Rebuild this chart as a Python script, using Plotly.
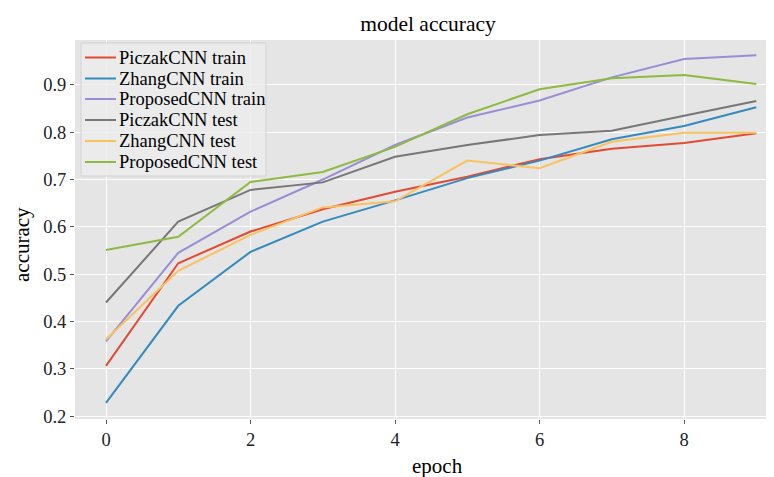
import plotly.graph_objects as go

epochs = list(range(10))
piczak_train = [0.306, 0.523, 0.590, 0.637, 0.674, 0.706, 0.743, 0.765, 0.777, 0.798]
zhang_train = [0.228, 0.433, 0.547, 0.611, 0.656, 0.703, 0.740, 0.785, 0.813, 0.853]
proposed_train = [0.358, 0.545, 0.632, 0.700, 0.773, 0.831, 0.867, 0.916, 0.955, 0.963]
piczak_test = [0.440, 0.611, 0.678, 0.694, 0.748, 0.773, 0.794, 0.803, 0.835, 0.866]
zhang_test = [0.362, 0.507, 0.583, 0.641, 0.654, 0.740, 0.724, 0.780, 0.799, 0.799]
proposed_test = [0.551, 0.579, 0.695, 0.716, 0.769, 0.838, 0.891, 0.914, 0.921, 0.902]

names = ["PiczakCNN train", "ZhangCNN train", "ProposedCNN train",
         "PiczakCNN test", "ZhangCNN test", "ProposedCNN test"]
values = [piczak_train, zhang_train, proposed_train, piczak_test, zhang_test, proposed_test]
colors = ["#E24A33", "#348ABD", "#988ED5", "#777777", "#FBC15E", "#8EBA42"]

FONT = "Liberation Serif, Times New Roman, serif"
OFF = 8  # default page body margin
W, H = 774 - OFF, 477 - OFF
# plot area in window pixels: left 75, right 774, top 40, bottom 419
ML, MR, MT, MB = 75 - OFF, 0, 40 - OFF, 477 - 419
PW, PH = W - ML - MR, H - MT - MB


def px(xw):
    return (xw - OFF - ML) / PW


def py(yw):
    return 1 - (yw - OFF - MT) / PH


fig = go.Figure()
for name, vals, color in zip(names, values, colors):
    fig.add_trace(go.Scatter(x=epochs, y=vals, mode="lines", name=name,
                             line=dict(color=color, width=2), showlegend=False))

shapes = []
annotations = []
shapes.append(dict(type="rect", xref="paper", yref="paper",
                   x0=px(81), x1=px(266), y0=py(43), y1=py(176),
                   fillcolor="rgba(236,236,236,0.85)", line=dict(color="#D2D2D2", width=1),
                   layer="above"))
row_y = [57.5, 78.5, 99, 120, 141, 162]
for name, color, ry in zip(names, colors, row_y):
    shapes.append(dict(type="line", xref="paper", yref="paper",
                       x0=px(85), x1=px(116), y0=py(ry), y1=py(ry),
                       line=dict(color=color, width=2), layer="above"))
    annotations.append(dict(text=name, xref="paper", yref="paper",
                            x=px(116.5), y=py(ry), xanchor="left", yanchor="middle",
                            showarrow=False,
                            font=dict(family=FONT, size=18.5, color="black")))

annotations.append(dict(text="epoch", xref="paper", yref="paper",
                        x=px(437), y=py(466), xanchor="center", yanchor="middle",
                        showarrow=False, font=dict(family=FONT, size=21, color="black")))
annotations.append(dict(text="accuracy", xref="paper", yref="paper",
                        x=px(22), y=py(245), xanchor="center", yanchor="middle",
                        textangle=-90, showarrow=False,
                        font=dict(family=FONT, size=21, color="black")))

fig.update_layout(
    width=W, height=H,
    margin=dict(l=ML, r=MR, t=MT, b=MB),
    paper_bgcolor="white",
    plot_bgcolor="#E5E5E5",
    font=dict(family=FONT, size=18.5, color="black"),
    title=dict(text="model accuracy", x=px(428), xref="paper", xanchor="center",
               y=1 - (23 - OFF) / H, yanchor="middle", yref="container",
               font=dict(family=FONT, size=21.5, color="black")),
    showlegend=False,
    shapes=shapes,
    annotations=annotations,
    xaxis=dict(range=[-0.429, 9.245], tickvals=[0, 2, 4, 6, 8],
               showgrid=True, gridcolor="white", gridwidth=1.2, zeroline=False,
               ticks="outside", ticklen=4, tickcolor="#555555",
               tickfont=dict(family=FONT, size=18.5, color="#222222"),
               automargin=False, showline=False),
    yaxis=dict(range=[0.1937, 0.995], tickvals=[0.2, 0.3, 0.4, 0.5, 0.6, 0.7, 0.8, 0.9],
               tickformat=".1f",
               showgrid=True, gridcolor="white", gridwidth=1.2, zeroline=False,
               ticks="outside", ticklen=4, tickcolor="#555555",
               tickfont=dict(family=FONT, size=18.5, color="#222222"),
               automargin=False, showline=False),
)

fig.write_html("out.html")
